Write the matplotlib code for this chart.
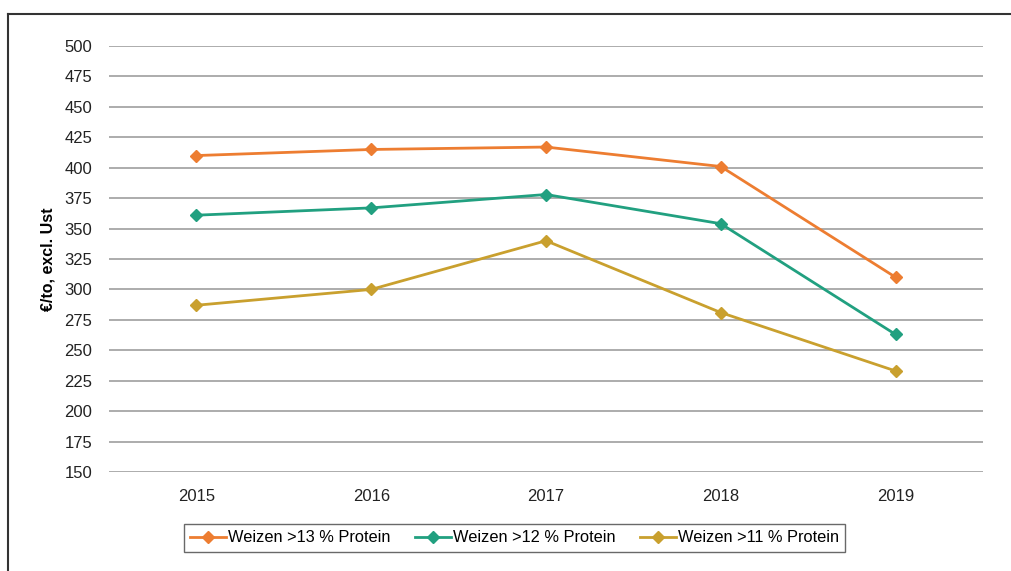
import matplotlib
matplotlib.use('Agg')
from matplotlib import pyplot as plt
from matplotlib.lines import Line2D

plt.rcParams['font.family'] = ['Liberation Sans', 'DejaVu Sans']

# prices in EUR/t excl. VAT
years = ['2015', '2016', '2017', '2018', '2019']
weizen_13 = [410, 415, 417, 401, 310]
weizen_12 = [361, 367, 378, 354, 263]
weizen_11 = [287, 300, 340, 281, 233]
labels = ['Weizen >13 % Protein', 'Weizen >12 % Protein', 'Weizen >11 % Protein']
colors = ['#ED7D31', '#21A080', '#C9A02E']

fig = plt.figure(figsize=(10.11, 5.71), dpi=100)
ax = fig.add_axes([0.1078, 0.1734, 0.8645, 0.746])

x = list(range(len(years)))
for vals, lab, col in zip([weizen_13, weizen_12, weizen_11], labels, colors):
    ax.plot(x, vals, color=col, lw=2, marker='D', markersize=6.5, label=lab)

ax.set_xlim(-0.5, len(years) - 0.5)
ax.set_ylim(150, 500)
ax.set_yticks(range(150, 501, 25))
ax.set_xticks(x)
ax.set_xticklabels(years)
ax.yaxis.grid(True, color='#A6A6A6', lw=1.3)
ax.set_axisbelow(True)
for s in ax.spines.values():
    s.set_visible(False)
ax.tick_params(axis='both', length=0, labelsize=12, colors='#222222')
ax.tick_params(axis='y', pad=12)
ax.tick_params(axis='x', pad=12)
ax.set_ylabel('€/to, excl. Ust', fontsize=11.5, fontweight='bold', labelpad=6)

leg = fig.legend(loc='center', bbox_to_anchor=(0.509, 0.058), ncol=3, fontsize=11.8,
                 frameon=True, fancybox=False, edgecolor='#444444', handlelength=2.2,
                 handletextpad=0.1, columnspacing=1.5, borderpad=0.4)
leg.get_frame().set_linewidth(1.0)

# outer frame (top and left edges visible)
fig.add_artist(Line2D([8 / 1011, 1.0], [1 - 14 / 571, 1 - 14 / 571], color='#333333', lw=1.5,
                      transform=fig.transFigure))
fig.add_artist(Line2D([8 / 1011, 8 / 1011], [1 - 14 / 571, 0.0], color='#333333', lw=1.5,
                      transform=fig.transFigure))

plt.savefig('out.png', dpi=100)
plt.close()
